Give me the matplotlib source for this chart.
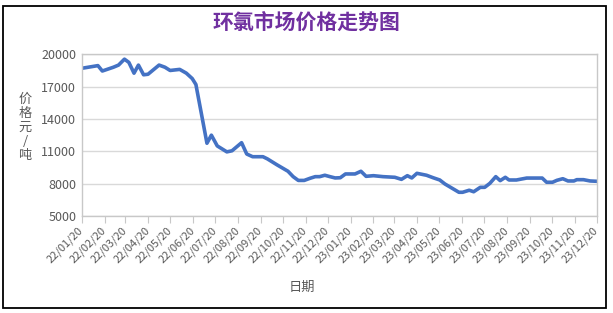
import matplotlib
matplotlib.use("Agg")
import matplotlib.pyplot as plt
from matplotlib.patches import Rectangle
import pandas as pd

plt.rcParams['font.family'] = ['Noto Sans CJK SC', 'DejaVu Sans']

title = "环氯市场价格走势图"
xlabel = "日期"
ylabel = "价\n格\n元\n/\n吨"

dates = [
    "2022-01-20", "2022-02-11", "2022-02-17", "2022-03-04", "2022-03-11", "2022-03-19",
    "2022-03-25", "2022-04-01", "2022-04-07", "2022-04-14", "2022-04-20", "2022-05-05",
    "2022-05-13", "2022-05-20", "2022-06-02", "2022-06-11", "2022-06-19", "2022-06-24",
    "2022-07-09", "2022-07-15", "2022-07-23", "2022-08-05", "2022-08-12", "2022-08-25",
    "2022-09-01", "2022-09-09", "2022-09-23", "2022-09-29", "2022-10-12", "2022-10-27",
    "2022-11-03", "2022-11-10", "2022-11-18", "2022-11-26", "2022-12-03", "2022-12-09",
    "2022-12-16", "2022-12-23", "2022-12-30", "2023-01-06", "2023-01-13", "2023-01-26",
    "2023-02-03", "2023-02-10", "2023-02-20", "2023-03-05", "2023-03-21", "2023-03-30",
    "2023-04-07", "2023-04-13", "2023-04-20", "2023-05-03", "2023-05-12", "2023-05-21",
    "2023-05-28", "2023-06-16", "2023-06-21", "2023-06-30", "2023-07-06", "2023-07-15",
    "2023-07-21", "2023-07-28", "2023-08-05", "2023-08-11", "2023-08-18", "2023-08-23",
    "2023-09-02", "2023-09-16", "2023-10-07", "2023-10-13", "2023-10-21", "2023-10-27",
    "2023-11-04", "2023-11-11", "2023-11-19", "2023-11-23", "2023-12-02", "2023-12-11",
    "2023-12-20",
]
prices = [
    18700, 18950, 18450, 18800, 19000, 19550,
    19250, 18250, 19000, 18100, 18150, 19000,
    18800, 18500, 18600, 18250, 17750, 17200,
    11750, 12500, 11500, 10950, 11050, 11800,
    10750, 10500, 10500, 10300, 9750, 9150,
    8650, 8300, 8300, 8500, 8650, 8650,
    8780, 8650, 8530, 8550, 8900, 8900,
    9150, 8680, 8740, 8650, 8590, 8400,
    8740, 8530, 8960, 8780, 8550, 8340,
    7970, 7200, 7200, 7390, 7250, 7660,
    7660, 8030, 8650, 8280, 8590, 8340,
    8340, 8520, 8520, 8130, 8130, 8310,
    8460, 8250, 8250, 8370, 8370, 8250,
    8220,
]
tick_dates = pd.date_range("2022-01-01", "2023-12-01", freq="MS") + pd.Timedelta(days=19)
tick_labels = [d.strftime("%y/%m/%d") for d in tick_dates]
yticks = [5000, 8000, 11000, 14000, 17000, 20000]

x = pd.to_datetime(dates)

fig = plt.figure(figsize=(6.13, 3.13), dpi=100)
fig.patches.append(Rectangle((3/613, 1-308/313), 603/613, 302/313, transform=fig.transFigure,
                             fill=False, edgecolor='black', linewidth=1.3))
ax = fig.add_axes([81.7/613, 1-216/313, (596.7-81.7)/613, (216-54.3)/313])
ax.plot(x, prices, color='#4472C4', linewidth=2.6, solid_joinstyle='round')

ax.set_xlim(tick_dates[0], tick_dates[-1])
ax.set_ylim(5000, 20000)
ax.set_yticks(yticks)
ax.set_xticks(tick_dates)
ax.set_xticklabels(tick_labels, rotation=45, ha='right', va='center', rotation_mode='anchor')
ax.grid(axis='y', color='#d9d9d9', linewidth=1)
ax.set_axisbelow(True)
for s in ax.spines.values():
    s.set_color('#c8c8c8')
    s.set_linewidth(1)
ax.tick_params(axis='y', length=0, labelsize=9, labelcolor='#595959', pad=4)
ax.tick_params(axis='x', length=5, color='#c8c8c8', labelsize=8, labelcolor='#595959', pad=4)

fig.text(0.5, 1-22/313, title, ha='center', va='center', fontsize=15, fontweight='bold', color='#7030A0')
fig.text(25/613, 1-127/313, ylabel, ha='center', va='center', fontsize=9.5, color='#595959', linespacing=1.1)
fig.text(302/613, 1-287/313, xlabel, ha='center', va='center', fontsize=9.5, color='#595959')

fig.savefig("out.png", dpi=100)
